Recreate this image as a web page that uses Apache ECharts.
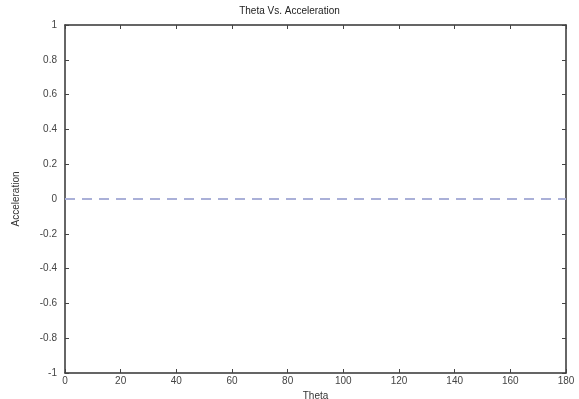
<!DOCTYPE html>
<html><head><meta charset="utf-8">
<script src="https://cdn.jsdelivr.net/npm/echarts@6/dist/echarts.min.js"></script>
<style>html,body{margin:0;padding:0;background:#fff}#c{width:579px;height:399px}</style>
</head><body><div id="c"></div>
<script>
const theta = [0,20,40,60,80,100,120,140,160,180];
const acceleration = [0,0,0,0,0,0,0,0,0,0];
const title = 'Theta Vs. Acceleration';
const xName = 'Theta';
const yName = 'Acceleration';

const chart = echarts.init(document.getElementById('c'));
const font = 'Liberation Sans, Arial, sans-serif';
const axisLine = {show:true, onZero:false, lineStyle:{color:'#333', width:1.5}};
const tick = {show:true, inside:true, length:4, lineStyle:{color:'#444'}};
chart.setOption({
  animation:false,
  title:{text:title, left:'center', top:1, textStyle:{fontSize:10, fontWeight:'normal', color:'#222', fontFamily:font}},
  grid:{left:65, right:13, top:25, bottom:26, containLabel:false, outerBoundsMode:'none'},
  xAxis:[
    {type:'value', min:0, max:180, interval:20, position:'bottom',
     name:xName, nameLocation:'middle', nameGap:16, nameTextStyle:{fontSize:10, color:'#333', fontFamily:font},
     axisLine:axisLine, axisTick:tick, splitLine:{show:false},
     axisLabel:{fontSize:10, color:'#444', margin:3, fontFamily:font}},
    {type:'value', min:0, max:180, interval:20, position:'top',
     axisLine:axisLine, axisTick:tick, splitLine:{show:false}, axisLabel:{show:false}}
  ],
  yAxis:[
    {type:'value', min:-1, max:1, interval:0.2, position:'left',
     name:yName, nameLocation:'middle', nameGap:44, nameTextStyle:{fontSize:10, color:'#333', fontFamily:font},
     axisLine:axisLine, axisTick:tick, splitLine:{show:false},
     axisLabel:{fontSize:10, color:'#444', margin:8, fontFamily:font,
       formatter:v=>{const r=Math.round(v*10)/10; return String(r);}}},
    {type:'value', min:-1, max:1, interval:0.2, position:'right',
     axisLine:axisLine, axisTick:tick, splitLine:{show:false}, axisLabel:{show:false}}
  ],
  series:[{type:'line', data:theta.map((t,i)=>[t,acceleration[i]]), showSymbol:false,
    lineStyle:{color:'#aab0d8', width:2, type:[10,7]}}]
});
</script></body></html>
